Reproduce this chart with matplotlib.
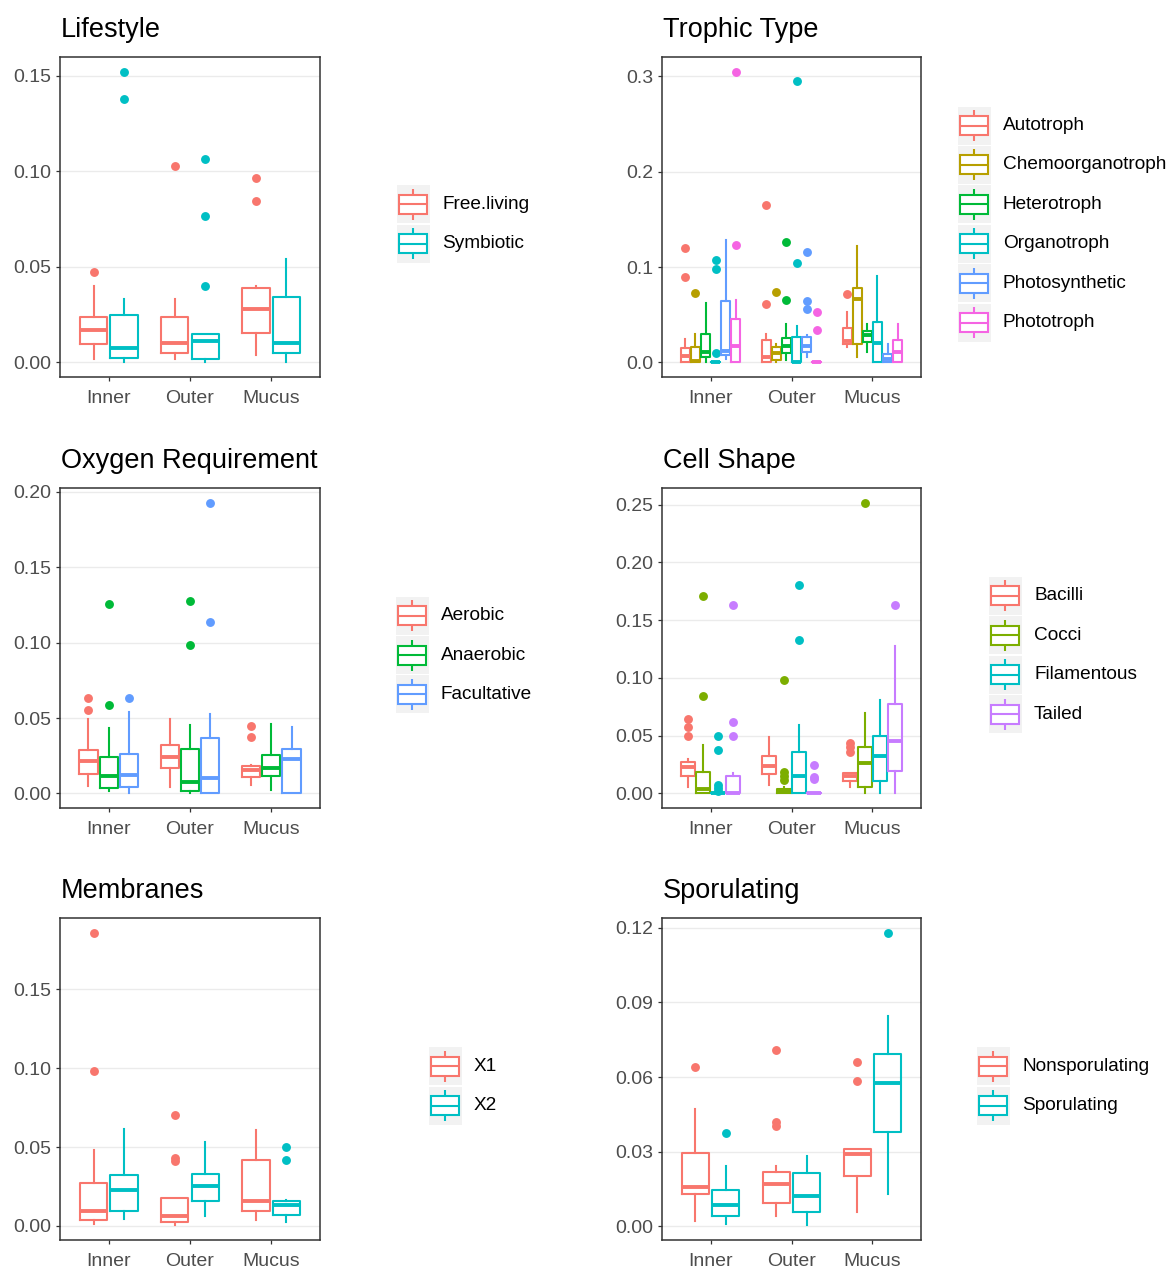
import matplotlib
matplotlib.use("Agg")
import matplotlib.pyplot as plt
from matplotlib.patches import Rectangle

plt.rcParams['font.family'] = ['Liberation Sans', 'DejaVu Sans']

sites = ["Inner", "Outer", "Mucus"]

# ---------------- Lifestyle ----------------
life_groups = ["Free.living", "Symbiotic"]
life_lo = [[0.0020, 0.0017, 0.0038], [0.0, 0.0, 0.0]]
life_q1 = [[0.0094, 0.0047, 0.0153], [0.0023, 0.0017, 0.0052]]
life_med = [[0.0169, 0.0104, 0.0278], [0.0078, 0.0113, 0.0104]]
life_q3 = [[0.0238, 0.0238, 0.0390], [0.0247, 0.0151, 0.0343]]
life_hi = [[0.0400, 0.0330, 0.0400], [0.0334, 0.0151, 0.0543]]
life_out = [[[0.0473], [0.1027], [0.0964, 0.0847]],
            [[0.1523, 0.1378], [0.1063, 0.0769, 0.0400], []]]
life_ticks = [0.0, 0.05, 0.10, 0.15]
life_ticklabels = ["0.00", "0.05", "0.10", "0.15"]

# ---------------- Trophic Type ----------------
troph_groups = ["Autotroph", "Chemoorganotroph", "Heterotroph", "Organotroph", "Photosynthetic", "Phototroph"]
troph_lo = [[0.0, 0.0, 0.016], [0.0, 0.0005, 0.0056], [0.001, 0.003, 0.0108],
            [0.0, 0.0, 0.0], [0.004, 0.0056, 0.0], [0.0, 0.0, 0.0]]
troph_q1 = [[0.0007, 0.001, 0.0194], [0.0003, 0.003, 0.0194], [0.0056, 0.010, 0.0212],
            [0.0, 0.0, 0.0], [0.008, 0.0108, 0.0003], [0.0003, 0.0, 0.0]]
troph_med = [[0.0063, 0.0056, 0.0229], [0.002, 0.010, 0.067], [0.0108, 0.0177, 0.0288],
             [0.0, 0.0, 0.020], [0.0125, 0.0177, 0.0038], [0.0177, 0.0, 0.0108]]
troph_q3 = [[0.015, 0.0236, 0.0357], [0.016, 0.0167, 0.0784], [0.0298, 0.026, 0.0333],
            [0.0, 0.027, 0.042], [0.064, 0.027, 0.009], [0.046, 0.0, 0.0236]]
troph_hi = [[0.025, 0.030, 0.053], [0.0298, 0.0194, 0.1218], [0.0628, 0.040, 0.040],
            [0.0, 0.0385, 0.0906], [0.128, 0.0288, 0.0194], [0.0656, 0.0, 0.040]]
troph_out = [[[0.1204, 0.0894], [0.1653, 0.0609], [0.0715]],
             [[0.073], [0.074], []],
             [[], [0.126, 0.066], []],
             [[0.0100, 0.098, 0.107], [0.295, 0.104], []],
             [[], [0.1155, 0.0644, 0.0564], []],
             [[0.305, 0.123], [0.053, 0.034], []]]
troph_ticks = [0.0, 0.1, 0.2, 0.3]
troph_ticklabels = ["0.0", "0.1", "0.2", "0.3"]

# ---------------- Oxygen Requirement ----------------
oxy_groups = ["Aerobic", "Anaerobic", "Facultative"]
oxy_lo = [[0.0048, 0.0044, 0.0053], [0.0015, 0.0, 0.0022], [0.0, 0.0, 0.0]]
oxy_q1 = [[0.013, 0.0169, 0.011], [0.0037, 0.0015, 0.0114], [0.0042, 0.0, 0.0]]
oxy_med = [[0.0218, 0.0242, 0.0154], [0.0114, 0.0077, 0.0169], [0.0121, 0.0103, 0.0229]]
oxy_q3 = [[0.029, 0.0323, 0.018], [0.0242, 0.0297, 0.0257], [0.0262, 0.0367, 0.0295]]
oxy_hi = [[0.0495, 0.0495, 0.0191], [0.0433, 0.0455, 0.046], [0.0539, 0.0526, 0.0444]]
oxy_out = [[[0.0631, 0.0554], [], [0.0449, 0.0374]],
           [[0.1258, 0.0585], [0.128, 0.0983], []],
           [[0.0631], [0.193, 0.1137], []]]
oxy_ticks = [0.0, 0.05, 0.10, 0.15, 0.20]
oxy_ticklabels = ["0.00", "0.05", "0.10", "0.15", "0.20"]

# ---------------- Cell Shape ----------------
cell_groups = ["Bacilli", "Cocci", "Filamentous", "Tailed"]
cell_lo = [[0.006, 0.0075, 0.0055], [0.0, 0.0, 0.0], [0.0, 0.0, 0.0], [0.0, 0.0, 0.0]]
cell_q1 = [[0.0155, 0.0164, 0.0112], [0.0, 0.0, 0.006], [0.0, 0.0, 0.0112], [0.0, 0.0, 0.0198]]
cell_med = [[0.0227, 0.0241, 0.015], [0.004, 0.0017, 0.0264], [0.0, 0.015, 0.0327], [0.0, 0.0, 0.0456]]
cell_q3 = [[0.027, 0.0327, 0.0175], [0.0184, 0.004, 0.040], [0.0, 0.0356, 0.050], [0.0155, 0.0, 0.0772]]
cell_hi = [[0.030, 0.0485, 0.0178], [0.042, 0.006, 0.070], [0.0, 0.0594, 0.0806], [0.018, 0.0, 0.1277]]
cell_out = [[[0.0643, 0.0577, 0.050], [], [0.044, 0.040, 0.036]],
            [[0.1705, 0.0844], [0.0982, 0.0184, 0.015, 0.012], [0.2517]],
            [[0.050, 0.038, 0.0075, 0.005, 0.0025], [0.180, 0.1326], []],
            [[0.163, 0.0617, 0.0494], [0.025, 0.014, 0.0125], [0.163]]]
cell_ticks = [0.0, 0.05, 0.10, 0.15, 0.20, 0.25]
cell_ticklabels = ["0.00", "0.05", "0.10", "0.15", "0.20", "0.25"]

# ---------------- Membranes ----------------
mem_groups = ["X1", "X2"]
mem_lo = [[0.001, 0.0004, 0.0036], [0.0047, 0.0061, 0.0025]]
mem_q1 = [[0.0036, 0.0025, 0.0093], [0.0093, 0.0159, 0.0072]]
mem_med = [[0.0093, 0.0063, 0.0157], [0.0226, 0.0252, 0.0135]]
mem_q3 = [[0.0275, 0.0178, 0.0417], [0.0322, 0.0328, 0.0157]]
mem_hi = [[0.048, 0.0178, 0.061], [0.0614, 0.0533, 0.0163]]
mem_out = [[[0.186, 0.0984], [0.0702, 0.0432, 0.0413], []],
           [[], [], [0.050, 0.042]]]
mem_ticks = [0.0, 0.05, 0.10, 0.15]
mem_ticklabels = ["0.00", "0.05", "0.10", "0.15"]

# ---------------- Sporulating ----------------
spor_groups = ["Nonsporulating", "Sporulating"]
spor_lo = [[0.002, 0.0042, 0.0058], [0.001, 0.0004, 0.013]]
spor_q1 = [[0.013, 0.0095, 0.0202], [0.0042, 0.0058, 0.038]]
spor_med = [[0.0159, 0.0169, 0.0289], [0.0085, 0.0121, 0.0575]]
spor_q3 = [[0.0293, 0.0219, 0.031], [0.0145, 0.0215, 0.0692]]
spor_hi = [[0.047, 0.0242, 0.031], [0.0242, 0.0284, 0.0846]]
spor_out = [[[0.0642], [0.071, 0.042, 0.0405], [0.0659, 0.0582]],
            [[0.0374], [], [0.118]]]
spor_ticks = [0.0, 0.03, 0.06, 0.09, 0.12]
spor_ticklabels = ["0.00", "0.03", "0.06", "0.09", "0.12"]

palettes = {
    2: ["#F8766D", "#00BFC4"],
    3: ["#F8766D", "#00BA38", "#619CFF"],
    4: ["#F8766D", "#7CAE00", "#00BFC4", "#C77CFF"],
    6: ["#F8766D", "#B79F00", "#00BA38", "#00BFC4", "#619CFF", "#F564E3"],
}

W, H = 1171, 1268
fig = plt.figure(figsize=(W / 100, H / 100), dpi=100)

# overlay in pixel coordinates for titles and legends
ov = fig.add_axes([0, 0, 1, 1])
ov.set_xlim(0, W)
ov.set_ylim(H, 0)
ov.axis("off")

panels = [
    ("Lifestyle", life_groups, life_lo, life_q1, life_med, life_q3, life_hi, life_out, life_ticks, life_ticklabels,
     (60, 57, 320, 377), 413),
    ("Trophic Type", troph_groups, troph_lo, troph_q1, troph_med, troph_q3, troph_hi, troph_out, troph_ticks, troph_ticklabels,
     (662, 57, 921, 377), 974),
    ("Oxygen Requirement", oxy_groups, oxy_lo, oxy_q1, oxy_med, oxy_q3, oxy_hi, oxy_out, oxy_ticks, oxy_ticklabels,
     (60, 488, 320, 808), 412),
    ("Cell Shape", cell_groups, cell_lo, cell_q1, cell_med, cell_q3, cell_hi, cell_out, cell_ticks, cell_ticklabels,
     (662, 488, 921, 808), 1005),
    ("Membranes", mem_groups, mem_lo, mem_q1, mem_med, mem_q3, mem_hi, mem_out, mem_ticks, mem_ticklabels,
     (60, 918, 320, 1240), 445),
    ("Sporulating", spor_groups, spor_lo, spor_q1, spor_med, spor_q3, spor_hi, spor_out, spor_ticks, spor_ticklabels,
     (662, 918, 921, 1240), 993),
]

LW = 1.5
MED_LW = 2.8
for (title, groups, lo, q1, med, q3, hi, out, ticks, ticklabels, box, leg_cx) in panels:
    x0, y0, x1, y1 = box
    ax = fig.add_axes([x0 / W, 1 - y1 / H, (x1 - x0) / W, (y1 - y0) / H])
    n = len(groups)
    cols = palettes[n]
    pitch = 0.75 / n
    bw = pitch * 0.9
    allv = []
    for g in range(n):
        c = cols[g]
        stats = []
        for s in range(3):
            stats.append(dict(whislo=lo[g][s], q1=q1[g][s], med=med[g][s], q3=q3[g][s],
                              whishi=hi[g][s], fliers=out[g][s]))
            allv += [lo[g][s], hi[g][s]] + list(out[g][s])
        pos = [s + 1 + (g - (n - 1) / 2) * pitch for s in range(3)]
        ax.bxp(stats, positions=pos, widths=bw, showcaps=False, manage_ticks=False,
               boxprops=dict(color=c, lw=LW),
               whiskerprops=dict(color=c, lw=LW),
               medianprops=dict(color=c, lw=MED_LW, solid_capstyle="butt"),
               flierprops=dict(marker="o", markerfacecolor=c, markeredgecolor="none", markersize=6.4))
    ymin, ymax = min(allv), max(allv)
    span = ymax - ymin
    ax.set_ylim(ymin - 0.05 * span, ymax + 0.05 * span)
    ax.set_xlim(0.4, 3.6)
    ax.set_yticks(ticks)
    ax.set_yticklabels(ticklabels)
    ax.set_xticks([1, 2, 3])
    ax.set_xticklabels(sites)
    ax.grid(axis="y", color="#EBEBEB", lw=1.0)
    ax.set_axisbelow(True)
    for sp in ax.spines.values():
        sp.set_color("#333333")
        sp.set_linewidth(1.1)
    ax.tick_params(axis="both", length=3.2, width=0.9, color="#333333",
                   labelcolor="#4D4D4D", labelsize=14)
    ax.tick_params(axis="y", pad=3.0)
    ax.tick_params(axis="x", pad=6.5)

    # title
    ov.text(x0 + 1, y0 - 27, title, fontsize=19.5, color="black", ha="left", va="center")

    # legend
    pitch_px = 39.4
    ycenter = (y0 + y1) / 2 + 7
    for g in range(n):
        c = cols[g]
        cy = ycenter + (g - (n - 1) / 2) * pitch_px
        cx = leg_cx
        ov.add_patch(Rectangle((cx - 16.5, cy - 19), 33, 38, facecolor="#F2F2F2", edgecolor="none"))
        ov.add_patch(Rectangle((cx - 14, cy - 9.5), 28, 19, facecolor="white", edgecolor=c, lw=LW))
        ov.plot([cx - 14, cx + 14], [cy, cy], color=c, lw=LW, solid_capstyle="butt")
        ov.plot([cx, cx], [cy - 9.5, cy - 15.5], color=c, lw=LW, solid_capstyle="butt")
        ov.plot([cx, cx], [cy + 9.5, cy + 15.5], color=c, lw=LW, solid_capstyle="butt")
        ov.text(cx + 29, cy, groups[g], fontsize=13.7, color="black", ha="left", va="center")

fig.savefig("out.png", dpi=100)
